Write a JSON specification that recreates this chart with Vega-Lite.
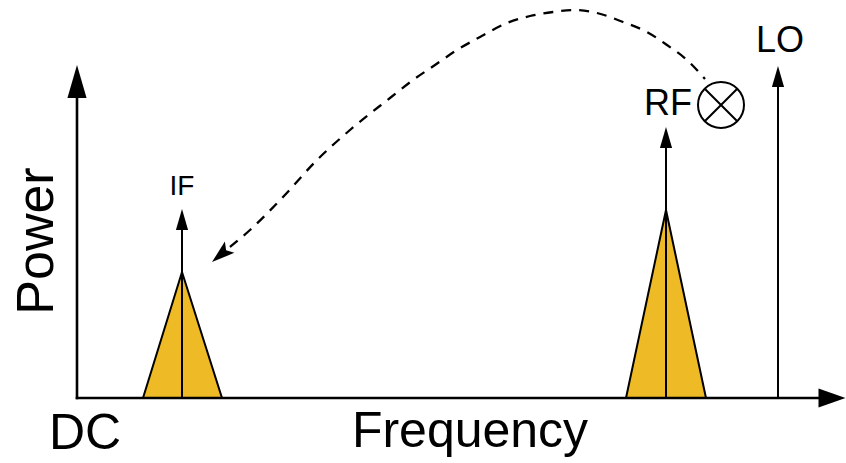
{
  "$schema": "https://vega.github.io/schema/vega-lite/v6.json",
  "width": 846,
  "height": 463,
  "autosize": {"type": "fit", "contains": "padding"},
  "padding": 0,
  "background": "white",
  "config": {"axis": {"disable": true}, "view": {"stroke": null}},
  "datasets": {
    "peaks": [
      {"signal": "IF", "freq": 66, "power": 0},
      {"signal": "IF", "freq": 105, "power": 126},
      {"signal": "IF", "freq": 145, "power": 0},
      {"signal": "RF", "freq": 549, "power": 0},
      {"signal": "RF", "freq": 589, "power": 188},
      {"signal": "RF", "freq": 629, "power": 0}
    ],
    "segments": [
      {"id": "freq_axis", "f1": 0, "p1": 0, "f2": 750, "p2": 0},
      {"id": "power_axis", "f1": 0, "p1": 0, "f2": 0, "p2": 310},
      {"id": "IF", "f1": 105, "p1": 0, "f2": 105, "p2": 180},
      {"id": "RF", "f1": 589, "p1": 0, "f2": 589, "p2": 262},
      {"id": "LO", "f1": 701, "p1": 0, "f2": 701, "p2": 322}
    ],
    "heads": [
      {"id": "power_axis", "freq": 0, "power": 333},
      {"id": "freq_axis", "freq": 768.5, "power": 0},
      {"id": "IF", "freq": 105, "power": 189},
      {"id": "RF", "freq": 589, "power": 271},
      {"id": "LO", "freq": 701, "power": 332},
      {"id": "mix", "freq": 135, "power": 136}
    ],
    "curve": [
      {"freq": 628, "power": 319},
      {"freq": 610, "power": 338},
      {"freq": 590, "power": 353},
      {"freq": 570, "power": 366},
      {"freq": 546, "power": 376},
      {"freq": 520, "power": 385},
      {"freq": 496, "power": 388},
      {"freq": 476, "power": 386},
      {"freq": 453, "power": 382},
      {"freq": 430, "power": 375},
      {"freq": 403, "power": 361},
      {"freq": 380, "power": 348},
      {"freq": 358, "power": 333},
      {"freq": 336, "power": 318},
      {"freq": 313, "power": 300},
      {"freq": 273, "power": 268},
      {"freq": 240, "power": 238},
      {"freq": 206, "power": 201},
      {"freq": 173, "power": 168},
      {"freq": 153, "power": 151}
    ],
    "mixer": [{"freq": 644, "power": 293}],
    "labels": [
      {"text": "IF", "freq": 105, "power": 203, "group": "small"},
      {"text": "RF", "freq": 591, "power": 283, "group": "mid"},
      {"text": "LO", "freq": 703, "power": 346, "group": "mid"},
      {"text": "DC", "freq": 8, "power": -51, "group": "big"},
      {"text": "Frequency", "freq": 393, "power": -49, "group": "big"}
    ],
    "ytitle": [{"text": "Power", "freq": -24, "power": 157}]
  },
  "encoding": {
    "x": {"type": "quantitative", "scale": {"domain": [-77, 769], "nice": false, "zero": false}},
    "y": {"type": "quantitative", "scale": {"domain": [-65, 398], "nice": false, "zero": false}}
  },
  "layer": [
    {
      "data": {"name": "peaks"},
      "mark": {"type": "area", "fill": "#EEBA26", "fillOpacity": 1, "stroke": "black", "strokeWidth": 2, "strokeJoin": "miter"},
      "encoding": {
        "x": {"field": "freq", "type": "quantitative"},
        "y": {"field": "power", "type": "quantitative"},
        "y2": {"datum": 0},
        "detail": {"field": "signal"}
      }
    },
    {
      "data": {"name": "segments"},
      "transform": [{"filter": "datum.id == 'freq_axis' || datum.id == 'power_axis'"}],
      "mark": {"type": "rule", "color": "black", "strokeWidth": 2.6, "strokeCap": "square"},
      "encoding": {
        "x": {"field": "f1", "type": "quantitative"},
        "y": {"field": "p1", "type": "quantitative"},
        "x2": {"field": "f2"},
        "y2": {"field": "p2"}
      }
    },
    {
      "data": {"name": "segments"},
      "transform": [{"filter": "datum.id != 'freq_axis' && datum.id != 'power_axis'"}],
      "mark": {"type": "rule", "color": "black", "strokeWidth": 2},
      "encoding": {
        "x": {"field": "f1", "type": "quantitative"},
        "y": {"field": "p1", "type": "quantitative"},
        "x2": {"field": "f2"},
        "y2": {"field": "p2"}
      }
    },
    {
      "data": {"name": "heads"},
      "transform": [{"filter": "datum.id == 'power_axis'"}],
      "mark": {"type": "point", "shape": "M0,0L-0.29,1L0.29,1Z", "size": 4356, "filled": true, "color": "black", "opacity": 1},
      "encoding": {
        "x": {"field": "freq", "type": "quantitative"},
        "y": {"field": "power", "type": "quantitative"}
      }
    },
    {
      "data": {"name": "heads"},
      "transform": [{"filter": "datum.id == 'freq_axis'"}],
      "mark": {"type": "point", "shape": "M0,0L-0.35,1L0.35,1Z", "size": 2916, "angle": 90, "filled": true, "color": "black", "opacity": 1},
      "encoding": {
        "x": {"field": "freq", "type": "quantitative"},
        "y": {"field": "power", "type": "quantitative"}
      }
    },
    {
      "data": {"name": "heads"},
      "transform": [{"filter": "datum.id == 'IF' || datum.id == 'RF' || datum.id == 'LO'"}],
      "mark": {"type": "point", "shape": "M0,0L-0.29,1L0.29,1Z", "size": 1764, "filled": true, "color": "black", "opacity": 1},
      "encoding": {
        "x": {"field": "freq", "type": "quantitative"},
        "y": {"field": "power", "type": "quantitative"}
      }
    },
    {
      "data": {"name": "curve"},
      "mark": {"type": "line", "color": "black", "strokeWidth": 2.3, "strokeDash": [10, 8], "interpolate": "monotone"},
      "encoding": {
        "x": {"field": "freq", "type": "quantitative"},
        "y": {"field": "power", "type": "quantitative"}
      }
    },
    {
      "data": {"name": "heads"},
      "transform": [{"filter": "datum.id == 'mix'"}],
      "mark": {"type": "point", "shape": "M0,0L-0.32,1L0,0.8L0.32,1Z", "size": 2116, "angle": 230, "filled": true, "color": "black", "opacity": 1},
      "encoding": {
        "x": {"field": "freq", "type": "quantitative"},
        "y": {"field": "power", "type": "quantitative"}
      }
    },
    {
      "data": {"name": "mixer"},
      "mark": {"type": "point", "shape": "circle", "size": 2116, "filled": false, "fill": "white", "fillOpacity": 1, "stroke": "black", "strokeWidth": 2, "opacity": 1},
      "encoding": {
        "x": {"field": "freq", "type": "quantitative"},
        "y": {"field": "power", "type": "quantitative"}
      }
    },
    {
      "data": {"name": "mixer"},
      "mark": {"type": "point", "shape": "M-0.707,-0.707L0.707,0.707M-0.707,0.707L0.707,-0.707", "size": 2116, "filled": false, "stroke": "black", "strokeWidth": 2, "opacity": 1},
      "encoding": {
        "x": {"field": "freq", "type": "quantitative"},
        "y": {"field": "power", "type": "quantitative"}
      }
    },
    {
      "data": {"name": "labels"},
      "transform": [{"filter": "datum.group == 'small'"}],
      "mark": {"type": "text", "font": "Liberation Sans", "fontSize": 28, "align": "center", "baseline": "alphabetic", "color": "black"},
      "encoding": {
        "x": {"field": "freq", "type": "quantitative"},
        "y": {"field": "power", "type": "quantitative"},
        "text": {"field": "text"}
      }
    },
    {
      "data": {"name": "labels"},
      "transform": [{"filter": "datum.group == 'mid'"}],
      "mark": {"type": "text", "font": "Liberation Sans", "fontSize": 36, "align": "center", "baseline": "alphabetic", "color": "black"},
      "encoding": {
        "x": {"field": "freq", "type": "quantitative"},
        "y": {"field": "power", "type": "quantitative"},
        "text": {"field": "text"}
      }
    },
    {
      "data": {"name": "labels"},
      "transform": [{"filter": "datum.group == 'big'"}],
      "mark": {"type": "text", "font": "Liberation Sans", "fontSize": 50, "align": "center", "baseline": "alphabetic", "color": "black"},
      "encoding": {
        "x": {"field": "freq", "type": "quantitative"},
        "y": {"field": "power", "type": "quantitative"},
        "text": {"field": "text"}
      }
    },
    {
      "data": {"name": "ytitle"},
      "mark": {"type": "text", "font": "Liberation Sans", "fontSize": 52, "angle": 270, "align": "center", "baseline": "alphabetic", "color": "black"},
      "encoding": {
        "x": {"field": "freq", "type": "quantitative"},
        "y": {"field": "power", "type": "quantitative"},
        "text": {"field": "text"}
      }
    }
  ]
}
